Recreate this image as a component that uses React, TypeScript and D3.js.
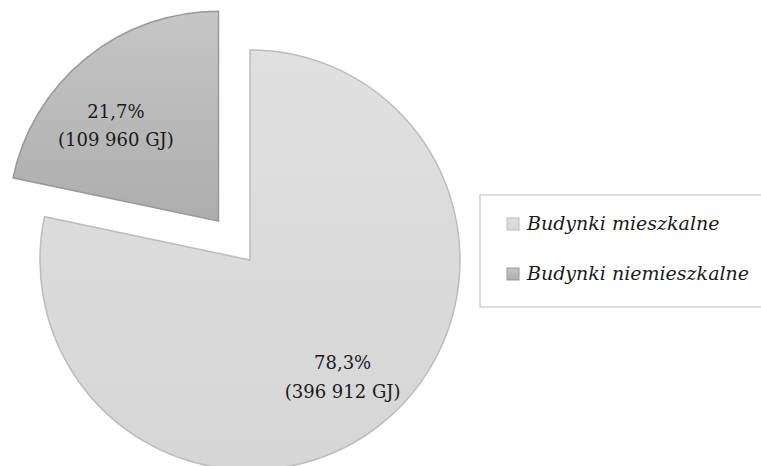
import * as React from 'react';
import { useEffect, useRef } from 'react';
import * as d3 from 'd3';

// data
const categories = ['Budynki mieszkalne', 'Budynki niemieszkalne'];
const values = [396912, 109960];
const percentLabels = ['78,3%', '21,7%'];
const energyLabels = ['(396 912 GJ)', '(109 960 GJ)'];
const exploded = [false, true];

const colors = [
  { top: '#e0e0e0', bottom: '#d6d6d6', stroke: '#bcbcbc' },
  { top: '#c6c6c6', bottom: '#adadad', stroke: '#999999' },
];
// small nudges so the labels sit where the original put them
const labelNudge = [[0, 0], [-10, 16]];

const W = 761;
const H = 466;

export default function App() {
  const ref = useRef<SVGSVGElement>(null);

  useEffect(() => {
    const svg = d3.select(ref.current);
    svg.selectAll('*').remove();

    const cx = 250, cy = 260, R = 210, explode = 50;

    const defs = svg.append('defs');
    colors.forEach((c, i) => {
      const g = defs.append('linearGradient')
        .attr('id', 'grad' + i)
        .attr('x1', 0).attr('y1', 0).attr('x2', 0).attr('y2', 1);
      g.append('stop').attr('offset', '0%').attr('stop-color', c.top);
      g.append('stop').attr('offset', '100%').attr('stop-color', c.bottom);
    });

    const pie = d3.pie<number>().sort(null).value(d => d);
    const arcs = pie(values);
    const arc = d3.arc<d3.PieArcDatum<number>>().innerRadius(0).outerRadius(R);
    const labelArc = d3.arc<d3.PieArcDatum<number>>().innerRadius(R * 0.7).outerRadius(R * 0.7);

    const g = svg.append('g').attr('transform', `translate(${cx},${cy})`);

    const slice = g.selectAll('g.slice')
      .data(arcs)
      .enter()
      .append('g')
      .attr('class', 'slice')
      .attr('transform', (d, i) => {
        if (!exploded[i]) return null;
        const mid = (d.startAngle + d.endAngle) / 2;
        return `translate(${Math.sin(mid) * explode},${-Math.cos(mid) * explode})`;
      });

    slice.append('path')
      .attr('d', arc)
      .attr('fill', (d, i) => `url(#grad${i})`)
      .attr('stroke', (d, i) => colors[i].stroke)
      .attr('stroke-width', 1.5)
      .attr('stroke-linejoin', 'miter');

    const label = slice.append('text')
      .attr('transform', (d, i) => {
        const [x, y] = labelArc.centroid(d);
        return `translate(${x + labelNudge[i][0]},${y + labelNudge[i][1]})`;
      })
      .attr('text-anchor', 'middle')
      .style('font-family', '"DejaVu Serif", serif')
      .style('font-size', '18px')
      .style('fill', '#1a1a1a');
    label.append('tspan').attr('x', 0).attr('dy', '-0.3em').text((d, i) => percentLabels[i]);
    label.append('tspan').attr('x', 0).attr('dy', '1.6em').text((d, i) => energyLabels[i]);

    // legend
    const lg = svg.append('g').attr('transform', 'translate(480,195)');
    lg.append('rect')
      .attr('x', 0).attr('y', 0)
      .attr('width', 300).attr('height', 112)
      .attr('fill', '#fff')
      .attr('stroke', '#bcbcbc')
      .attr('stroke-width', 1);
    const item = lg.selectAll('g.item')
      .data(categories)
      .enter()
      .append('g')
      .attr('transform', (d, i) => `translate(27,${35 + i * 50})`);
    item.append('rect')
      .attr('x', 0).attr('y', -12)
      .attr('width', 12).attr('height', 12)
      .attr('fill', (d, i) => `url(#grad${i})`)
      .attr('stroke', (d, i) => colors[i].stroke);
    item.append('text')
      .attr('x', 20).attr('y', 0)
      .style('font-family', '"DejaVu Serif", serif')
      .style('font-style', 'italic')
      .style('font-size', '19px')
      .style('fill', '#1a1a1a')
      .text(d => d);
  }, []);

  return (
    <div style={{ position: 'absolute', left: 0, top: 0 }}>
      <svg ref={ref} width={W} height={H} style={{ display: 'block', background: '#fff' }} />
    </div>
  );
}
